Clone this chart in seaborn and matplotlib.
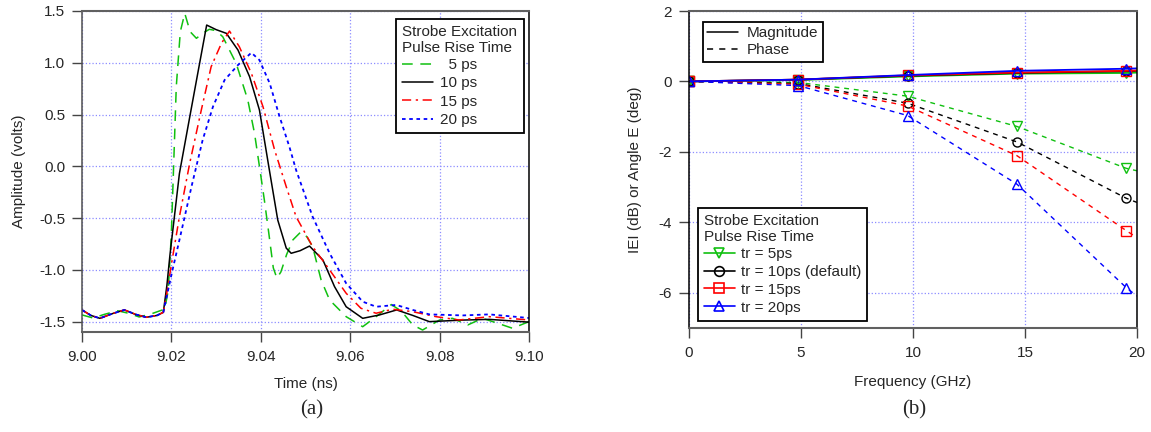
import numpy as np
import pandas as pd
import matplotlib
matplotlib.use('Agg')
import matplotlib.pyplot as plt
from matplotlib.lines import Line2D
from matplotlib.ticker import FormatStrFormatter
import seaborn as sns

# ---- (a) strobe pulse waveforms ----
t_5ps = [9.000, 9.0025, 9.005, 9.008, 9.0105, 9.0128, 9.0155, 9.0178, 9.0185, 9.0193,
         9.0200, 9.0211, 9.0220, 9.0230, 9.0242, 9.0256, 9.0272, 9.0285, 9.0300, 9.0315,
         9.0345, 9.0371, 9.0386, 9.0397, 9.0408, 9.0418, 9.0428, 9.0436, 9.0445, 9.0458,
         9.0472, 9.0490, 9.0503, 9.0516, 9.0535, 9.0554, 9.0591, 9.0628, 9.0658, 9.0692,
         9.0715, 9.0740, 9.0762, 9.0800, 9.0829, 9.0863, 9.0896, 9.0926, 9.0963, 9.100]
v_5ps = [-1.435, -1.465, -1.43, -1.395, -1.42, -1.455, -1.425, -1.39, -1.38, -1.2,
         -0.65, 0.77, 1.30, 1.477, 1.30, 1.236, 1.29, 1.323, 1.31, 1.251,
         0.994, 0.64, 0.319, 0.0, -0.325, -0.647, -0.98, -1.08, -1.02, -0.85,
         -0.71, -0.632, -0.68, -0.776, -1.098, -1.291, -1.452, -1.549, -1.452, -1.335,
         -1.40, -1.532, -1.581, -1.484, -1.468, -1.532, -1.468, -1.51, -1.564, -1.50]

t_10ps = [9.000, 9.002, 9.004, 9.007, 9.0095, 9.012, 9.0144, 9.0168, 9.0182, 9.0190,
          9.0197, 9.0218, 9.024, 9.026, 9.0279, 9.030, 9.0323, 9.0349, 9.0375, 9.0397,
          9.0418, 9.0438, 9.0457, 9.0468, 9.0488, 9.0509, 9.0539, 9.0565, 9.0591, 9.0628,
          9.0665, 9.0704, 9.074, 9.0777, 9.0852, 9.0911, 9.100]
v_10ps = [-1.387, -1.44, -1.468, -1.42, -1.387, -1.43, -1.458, -1.44, -1.41, -1.15,
          -0.85, -0.07, 0.45, 0.92, 1.364, 1.32, 1.284, 1.123, 0.865, 0.544,
          -0.004, -0.519, -0.79, -0.84, -0.815, -0.77, -0.905, -1.162, -1.356, -1.468,
          -1.436, -1.387, -1.44, -1.50, -1.485, -1.478, -1.505]

t_15ps = [9.000, 9.002, 9.004, 9.007, 9.0095, 9.012, 9.0144, 9.0168, 9.0182, 9.0190,
          9.0200, 9.0218, 9.0241, 9.0267, 9.0289, 9.0312, 9.0330, 9.0352, 9.0379, 9.0405,
          9.0431, 9.0457, 9.0479, 9.0516, 9.0554, 9.0591, 9.0624, 9.0658, 9.0695, 9.074,
          9.0792, 9.0844, 9.0911, 9.100]
v_15ps = [-1.387, -1.44, -1.468, -1.42, -1.387, -1.43, -1.458, -1.44, -1.41, -1.22,
          -0.95, -0.487, 0.029, 0.544, 0.962, 1.188, 1.306, 1.155, 0.898, 0.575,
          0.157, -0.197, -0.487, -0.776, -1.001, -1.226, -1.371, -1.419, -1.38, -1.404,
          -1.452, -1.484, -1.452, -1.484]

t_20ps = [9.000, 9.002, 9.004, 9.007, 9.0095, 9.012, 9.0144, 9.0168, 9.0182, 9.0190,
          9.0200, 9.0218, 9.0245, 9.0270, 9.0293, 9.0319, 9.0349, 9.0379, 9.0397, 9.0420,
          9.0442, 9.0464, 9.0479, 9.0516, 9.0554, 9.0591, 9.0628, 9.0658, 9.0703, 9.074,
          9.0777, 9.0852, 9.0911, 9.100]
v_20ps = [-1.387, -1.44, -1.468, -1.42, -1.387, -1.43, -1.458, -1.44, -1.41, -1.25,
          -1.05, -0.712, -0.197, 0.254, 0.575, 0.833, 0.978, 1.097, 1.026, 0.801,
          0.48, 0.189, -0.036, -0.487, -0.84, -1.13, -1.307, -1.356, -1.339, -1.387,
          -1.43, -1.44, -1.43, -1.465]

# ---- (b) magnitude / phase vs frequency ----
freq = [0.0, 4.88, 9.76, 14.64, 19.52, 20.0]   # last point = end of curve, no marker
mag_5ps = [0.0, 0.04, 0.14, 0.22, 0.24, 0.25]
mag_10ps = [0.0, 0.05, 0.16, 0.24, 0.29, 0.30]
mag_15ps = [0.0, 0.05, 0.17, 0.25, 0.30, 0.31]
mag_20ps = [0.0, 0.05, 0.18, 0.30, 0.36, 0.37]
ph_5ps = [0.0, -0.03, -0.42, -1.28, -2.47, -2.54]
ph_10ps = [0.0, -0.06, -0.62, -1.72, -3.32, -3.44]
ph_15ps = [0.0, -0.08, -0.70, -2.11, -4.24, -4.44]
ph_20ps = [0.0, -0.12, -0.97, -2.92, -5.86, -6.10]

wave_labels = ['  5 ps', '10 ps', '15 ps', '20 ps']
tr_labels = ['tr = 5ps', 'tr = 10ps (default)', 'tr = 15ps', 'tr = 20ps']

GREEN = '#10c010'
GRID = '#8c8cff'
FS = 11
PHASE_LS = (0, (3.5, 3.5))

sns.set_style("ticks")
plt.rcParams['font.family'] = ['Liberation Sans', 'DejaVu Sans']
plt.rcParams['axes.unicode_minus'] = False


def frameAxes(ax, leftcolor):
    for s in ['top', 'bottom']:
        ax.spines[s].set_color('#606060')
        ax.spines[s].set_linewidth(1.5)
    ax.spines['left'].set_color(leftcolor)
    ax.spines['right'].set_color('black')
    for s in ['left', 'right']:
        ax.spines[s].set_linewidth(1.1)
    ax.tick_params(direction='out', length=7.2, width=1, color='#444444', labelsize=FS,
                   pad=5, top=False, right=False, left=True, bottom=True)
    ax.tick_params(axis='x', pad=6)
    ax.grid(True, color=GRID, linestyle=':', linewidth=0.9)
    ax.set_axisbelow(True)


def styleLegend(leg):
    leg.get_frame().set_edgecolor('black')
    leg.get_frame().set_linewidth(1.3)
    leg.get_frame().set_boxstyle('square', pad=0)


fig = plt.figure(figsize=(11.51, 4.32), dpi=100)
axA = fig.add_axes([0.0712, 0.2315, 0.3884, 0.7431])
axB = fig.add_axes([0.5986, 0.2414, 0.3892, 0.7331])

# ---------------- panel (a) ----------------
wave_styles = [
    (t_5ps, v_5ps, GREEN, (0, (7, 5)), 1.1),
    (t_10ps, v_10ps, 'black', '-', 1.1),
    (t_15ps, v_15ps, 'red', (0, (6, 3, 1.5, 3)), 1.1),
    (t_20ps, v_20ps, 'blue', (0, (2, 2)), 1.3),
]
handlesA = []
for (t, v, c, ls, lw), lab in zip(wave_styles, wave_labels):
    sns.lineplot(x=t, y=v, ax=axA, color=c, linestyle=ls, linewidth=lw, sort=False,
                 estimator=None, legend=False)
    handlesA.append(Line2D([], [], color=c, linestyle=ls, linewidth=lw))

axA.set_xlim(9.0, 9.1)
axA.set_ylim(-1.6, 1.5)
axA.set_xticks(np.arange(9.0, 9.1001, 0.02))
axA.set_yticks(np.arange(-1.5, 1.501, 0.5))
axA.xaxis.set_major_formatter(FormatStrFormatter('%.2f'))
axA.yaxis.set_major_formatter(FormatStrFormatter('%.1f'))
frameAxes(axA, '#505050')
axA.set_xlabel('Time (ns)', fontsize=FS, labelpad=9)
axA.set_ylabel('Amplitude (volts)', fontsize=FS, labelpad=9)

legA = axA.legend(handles=handlesA, labels=wave_labels,
                  title='Strobe Excitation\nPulse Rise Time',
                  loc='upper right', bbox_to_anchor=(0.988, 0.976), borderaxespad=0,
                  fancybox=False, framealpha=1, fontsize=FS, title_fontsize=FS,
                  labelspacing=0.28, handlelength=2.0, handletextpad=0.45,
                  borderpad=0.42, alignment='left')
legA._legend_box.sep = 2
styleLegend(legA)

# ---------------- panel (b) ----------------
series_b = [
    (mag_5ps, ph_5ps, GREEN, 'v'),
    (mag_10ps, ph_10ps, 'black', 'o'),
    (mag_15ps, ph_15ps, 'red', 's'),
    (mag_20ps, ph_20ps, 'blue', '^'),
]
marked = list(range(5))
handlesB = []
for mag, ph, c, m in series_b:
    sns.lineplot(x=freq, y=ph, ax=axB, color=c, linestyle=PHASE_LS, linewidth=1.0,
                 marker=m, markevery=marked, markersize=6.5, markerfacecolor='none',
                 markeredgecolor=c, markeredgewidth=1.0, sort=False, estimator=None,
                 legend=False)
for mag, ph, c, m in series_b:
    sns.lineplot(x=freq, y=mag, ax=axB, color=c, linestyle='-', linewidth=1.3,
                 marker=m, markevery=marked, markersize=6.5, markerfacecolor='none',
                 markeredgecolor=c, markeredgewidth=1.0, sort=False, estimator=None,
                 legend=False)
    handlesB.append(Line2D([], [], color=c, linewidth=1.2, marker=m, markersize=7,
                           markerfacecolor='none', markeredgecolor=c, markeredgewidth=1.2))

axB.set_xlim(0, 20)
axB.set_ylim(-7, 2)
axB.set_xticks([0, 5, 10, 15, 20])
axB.set_yticks([2, 0, -2, -4, -6])
frameAxes(axB, 'black')
axB.set_xlabel('Frequency (GHz)', fontsize=FS, labelpad=11)
axB.set_ylabel('IEI (dB) or Angle E (deg)', fontsize=FS, labelpad=12)

legType = axB.legend(handles=[Line2D([], [], color='black', linewidth=1.1),
                              Line2D([], [], color='black', linewidth=1.1,
                                     linestyle=(0, (4, 4)))],
                     labels=['Magnitude', 'Phase'],
                     loc='upper left', bbox_to_anchor=(0.031, 0.966), borderaxespad=0,
                     fancybox=False, framealpha=1, fontsize=FS, labelspacing=0.2,
                     handlelength=2.0, handletextpad=0.6, borderpad=0.3)
styleLegend(legType)
axB.add_artist(legType)

legB = axB.legend(handles=handlesB, labels=tr_labels,
                  title='Strobe Excitation\nPulse Rise Time',
                  loc='upper left', bbox_to_anchor=(0.02, 0.378), borderaxespad=0,
                  fancybox=False, framealpha=1, fontsize=FS, title_fontsize=FS,
                  labelspacing=0.25, handlelength=2.0, handletextpad=0.4,
                  borderpad=0.4, alignment='left')
legB._legend_box.sep = 2
styleLegend(legB)

fig.text(312 / 1151, 1 - 410 / 432, '(a)', family=['Liberation Serif', 'DejaVu Serif'],
         fontsize=15, ha='center', va='center')
fig.text(914 / 1151, 1 - 410 / 432, '(b)', family=['Liberation Serif', 'DejaVu Serif'],
         fontsize=15, ha='center', va='center')

fig.savefig('out.png', dpi=100)
